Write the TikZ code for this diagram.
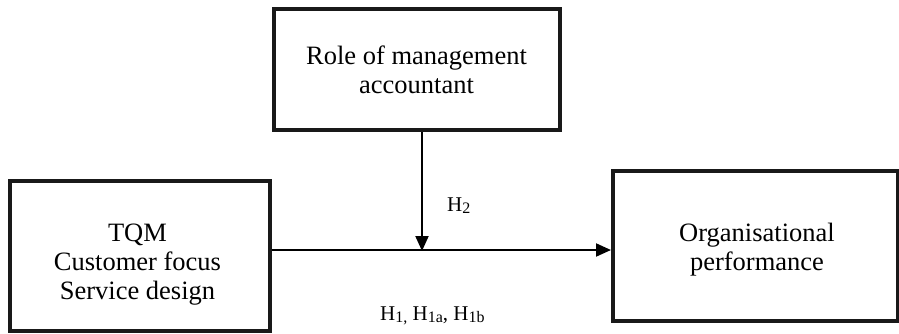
\documentclass[tikz,border=0pt]{standalone}
\usepackage{fontspec}
\setmainfont{Liberation Serif}
\usetikzlibrary{arrows.meta}
\newcommand\hsub[1]{\raisebox{-2pt}{\fontsize{16}{16}\selectfont #1}}
\begin{document}
\begin{tikzpicture}[x=1pt,y=-1pt,
  boxstyle/.style={draw=black!90, line width=4pt, rectangle, inner sep=0pt},
  boxtext/.style={align=center, font=\fontsize{26.5}{29}\selectfont, inner sep=0pt},
  hlabel/.style={font=\fontsize{21}{24}\selectfont, inner sep=0pt},
  arr/.style={draw=black, line width=2pt, -{Triangle[length=15pt,width=13pt]}}]
\useasboundingbox (0,0) rectangle (899,333);
% boxes
\node[boxstyle, minimum width=286pt, minimum height=121pt] (top) at (417,69.5) {};
\node[boxstyle, minimum width=259.5pt, minimum height=149.5pt] (left) at (139.75,255.75) {};
\node[boxstyle, minimum width=285pt, minimum height=149.5pt] (right) at (755.5,245.75) {};
% texts
\node[boxtext] (toptext) at (416.5,70) {Role of management\\accountant};
\node[boxtext] (lefttext) at (137.5,265) {TQM\\Customer focus\\Service design};
\node[boxtext] (righttext) at (757,250) {Organisational\\performance};
% junction
\coordinate (m) at (422,250);
% arrows
\draw[arr] (left.east |- m) -- (right.west |- m);
\draw[arr] (m |- top.south) -- ([yshift=-1pt]m);
% labels
\node[hlabel, anchor=base west] (h2) at (447,211) {H\hsub{2}};
\node[hlabel, anchor=base west] (h1) at (380,320) {H\hsub{1,} H\hsub{1a}, H\hsub{1b}};
\end{tikzpicture}
\end{document}
